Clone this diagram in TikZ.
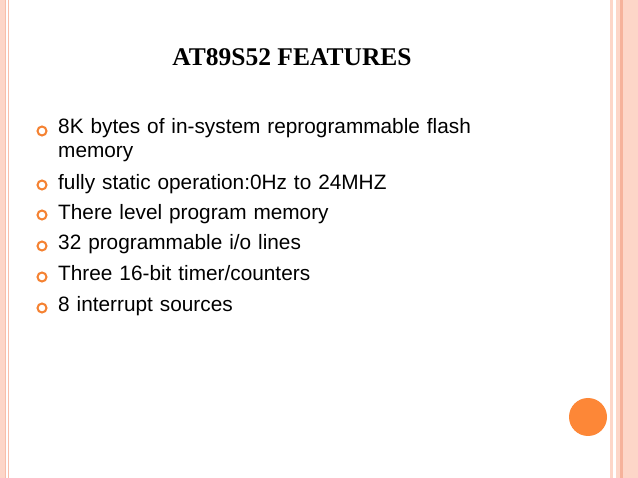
\documentclass[tikz,border=0pt]{standalone}
\usepackage{fontspec}
\setmainfont{Liberation Sans}
\newfontfamily\serifb{Liberation Serif}
\definecolor{band}{RGB}{253,214,200}
\definecolor{bandd}{RGB}{246,178,155}
\definecolor{lineo}{RGB}{248,190,170}
\definecolor{dot}{RGB}{253,135,55}
\definecolor{bul}{RGB}{245,130,50}
\begin{document}
\begin{tikzpicture}[x=1pt,y=-1pt,
  item/.style={anchor=north west,inner sep=0pt,font=\fontsize{20.8}{24}\selectfont,align=left,text width=470pt},
  bullet/.style={circle,draw=bul,line width=2pt,minimum size=9pt,inner sep=0pt}]
\useasboundingbox[fill=white] (0,0) rectangle (638,478);
% left bands
\fill[band] (0,0) rectangle (5,478);
\fill[lineo] (5,0) rectangle (6.3,478);
\fill[lineo] (8,0) rectangle (8.8,478);
% right bands
\fill[band] (610,0) rectangle (612.5,478);
\fill[band] (616,0) rectangle (620,478);
\fill[bandd] (620,0) rectangle (622.5,478);
\fill[band] (622.5,0) rectangle (638,478);
\node[circle,fill=dot,minimum size=38pt,inner sep=0pt] (dotc) at (588,417) {};
\node[font=\serifb\bfseries\fontsize{25.5}{28}\selectfont] (title) at (292,57) {AT89S52 FEATURES};
\node[item] (i1) at (58,118) {8K bytes of in-system reprogrammable flash\\memory};
\node[item] (i2) at (58,174) {fully static operation:0Hz to 24MHZ};
\node[item] (i3) at (58,204) {There level program memory};
\node[item] (i4) at (58,234) {32 programmable i/o lines};
\node[item] (i5) at (58,265) {Three 16-bit timer/counters};
\node[item] (i6) at (58,296) {8 interrupt sources};
\foreach \y/\n in {131/b1,185/b2,215/b3,246/b4,277/b5,308/b6}
  \node[bullet] (\n) at (42,\y) {};
\end{tikzpicture}
\end{document}
